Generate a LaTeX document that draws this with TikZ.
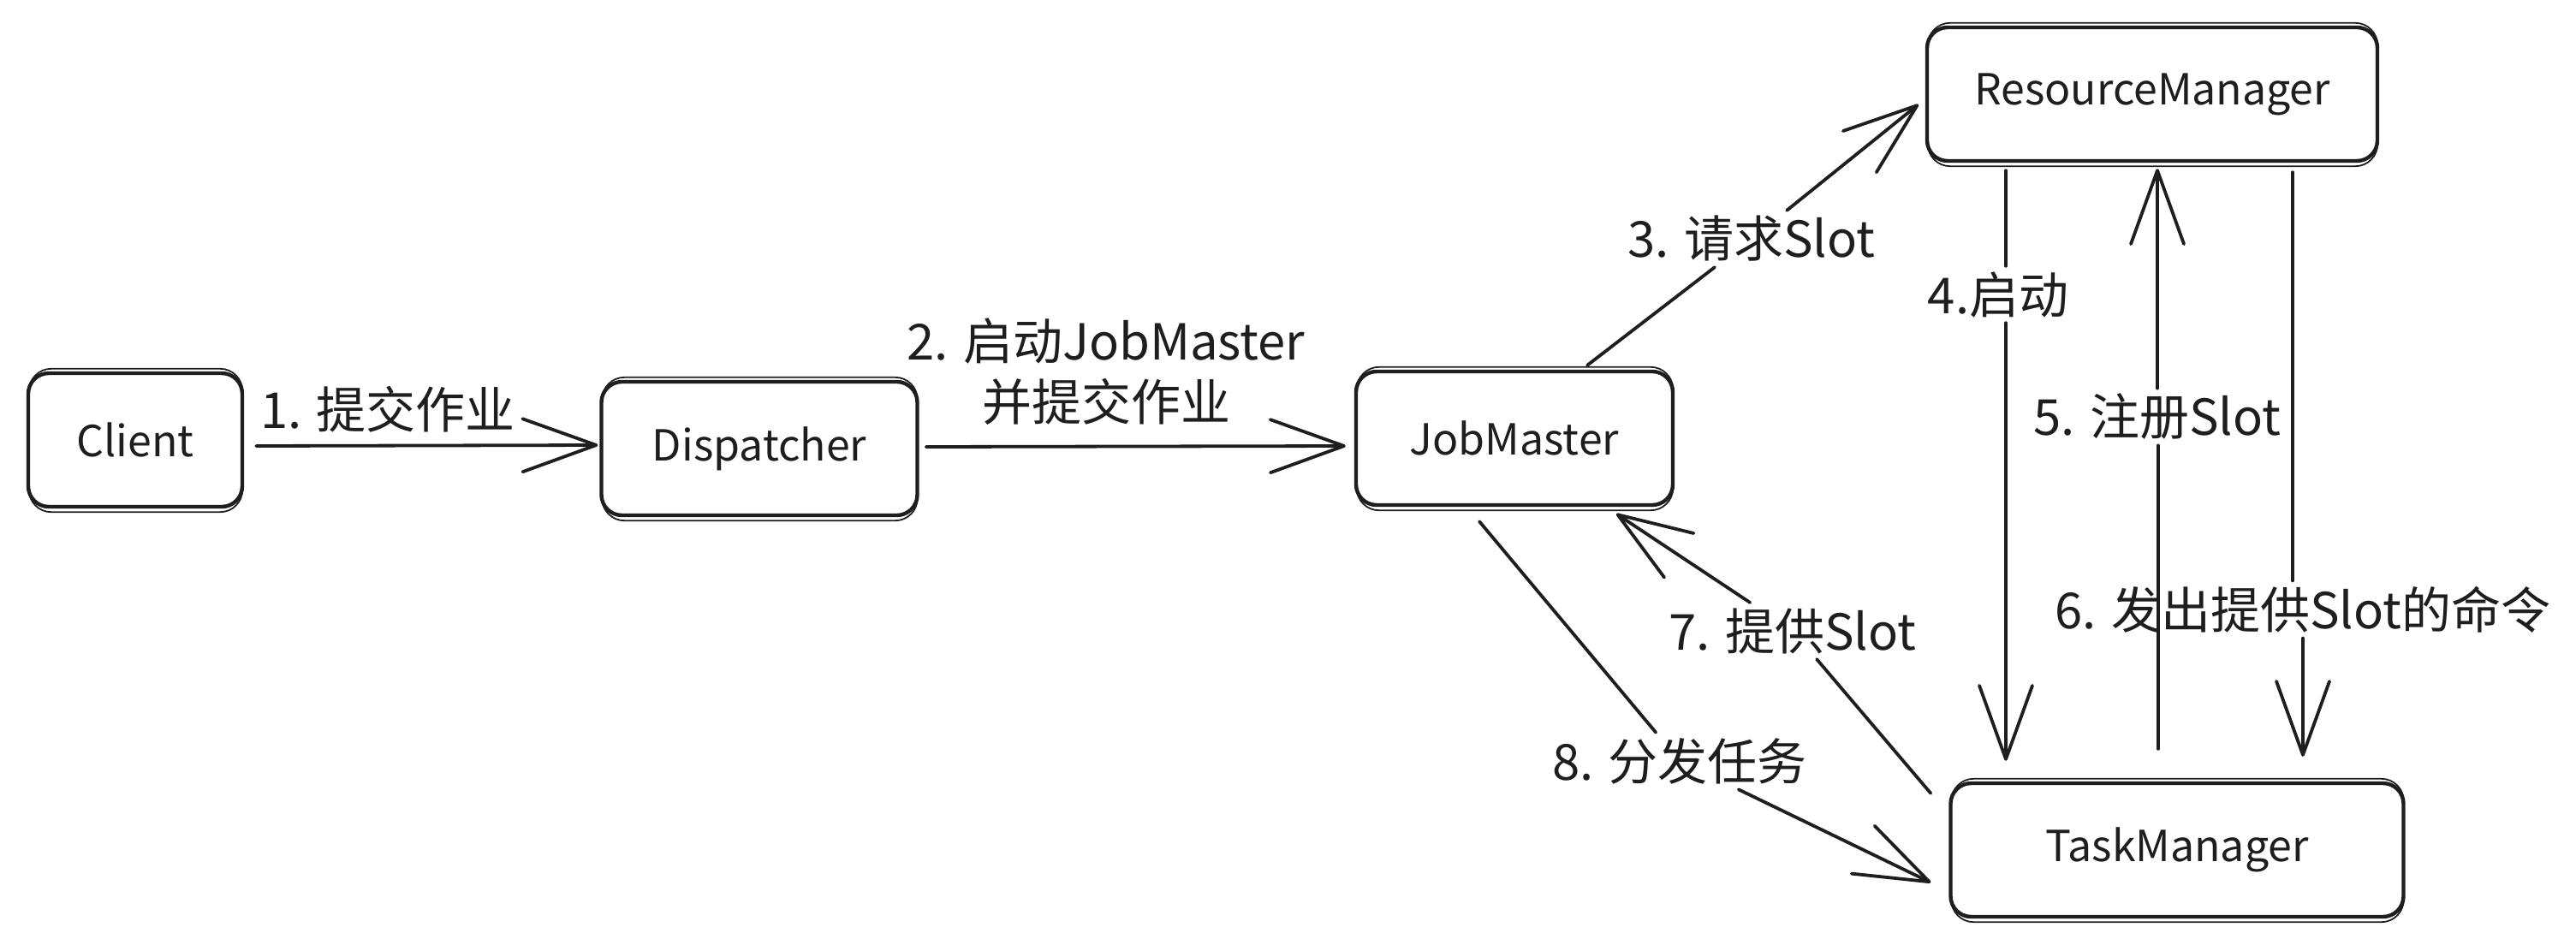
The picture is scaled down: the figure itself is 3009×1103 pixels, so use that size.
\documentclass[tikz,border=0pt]{standalone}
\usepackage{fontspec}
\setmainfont{Noto Sans CJK SC}
\usetikzlibrary{arrows.meta,calc}
\definecolor{ink}{HTML}{1E1E1E}
\begin{document}
\begin{tikzpicture}[x=0.5pt,y=-0.5pt,
  box/.style={draw=ink, line width=2.2pt, rounded corners=12pt, minimum width=#1, minimum height=78pt, inner sep=0pt, font=\fontsize{25}{30}\selectfont, text=ink},
  sketch/.style={draw=ink, line width=0.9pt, rounded corners=13pt},
  lab/.style={text=ink, font=\fontsize{29}{35.5}\selectfont, inner sep=3pt, align=center},
  conn/.style={draw=ink, line width=1.9pt, line cap=round, line join=round},
  arr/.style={conn, -{Straight Barb[length=43pt,width=31pt,round]}}]
\useasboundingbox[fill=white] (0,0) rectangle (3009,1103);
% boxes
\node[box=125pt] (client) at (158,514) {Client};
\node[box=184.5pt] (disp) at (887,524) {Dispatcher};
\node[box=185pt] (jm) at (1769,512) {JobMaster};
\node[box=263pt] (rm) at (2514,110) {ResourceManager};
\node[box=264.5pt] (tm) at (2543,993) {TaskManager};
% second sketch strokes
\foreach \n in {client,disp,jm,rm,tm}
  \draw[sketch] ($(\n.north west)+(3,-3)$) rectangle ($(\n.south east)+(-2,4)$);
% labels
\node[lab] (l1) at (453,478) {1. 提交作业};
\node[lab] (l2) at (1292,434) {2. 启动JobMaster\\并提交作业};
\node[lab] (l3) at (2046,279) {3. 请求Slot};
\node[lab] (l4) at (2334,344) {4.启动};
\node[lab] (l5) at (2520,487) {5. 注册Slot};
\node[lab] (l6) at (2690,712) {6. 发出提供Slot的命令};
\node[lab] (l7) at (2094,737) {7. 提供Slot};
\node[lab] (l8) at (1962,889) {8. 分发任务};
% endpoints
\coordinate (s4) at ($(rm.south)+(-171,9)$);
\coordinate (e4) at ($(tm.north)+(-200,-24)$);
\coordinate (s5) at ($(tm.north)+(-22,-38)$);
\coordinate (e5) at ($(rm.south)+(6,7)$);
\coordinate (s6) at ($(rm.south)+(164,11)$);
\coordinate (e6) at ($(tm.north)+(147,-29)$);
\coordinate (s7) at ($(tm.north west)+(-21,14)$);
\coordinate (e7) at ($(jm.south)+(119,8)$);
\coordinate (s8) at ($(jm.south)+(-41,17)$);
\coordinate (e8) at ($(tm.west)+(-21,38)$);
% connectors
\draw[arr] ($(client.east)+(14,7)$) -- ($(disp.west)+(-2,-4)$);
\draw[arr] ($(disp.east)+(8,-2)$) -- ($(jm.west)+(-10,9)$);
\draw[conn] ($(jm.north)+(85,-5)$) -- (l3);
\draw[arr] (l3) -- ($(rm.west)+(-8,12)$);
\draw[conn] (s4) -- (s4 |- l4.north);
\draw[arr] (s4 |- l4.south) -- (e4);
\draw[conn] (s5) -- (s5 |- l5.south);
\draw[arr] (e5 |- l5.north) -- (e5);
\draw[conn] (s6) -- (s6 |- l6.north);
\draw[arr] (e6 |- l6.south) -- (e6);
\draw[conn] (s7) -- (l7);
\draw[arr] (l7) -- (e7);
\draw[conn] (s8) -- (l8);
\draw[arr] (l8) -- (e8);
\end{tikzpicture}
\end{document}
